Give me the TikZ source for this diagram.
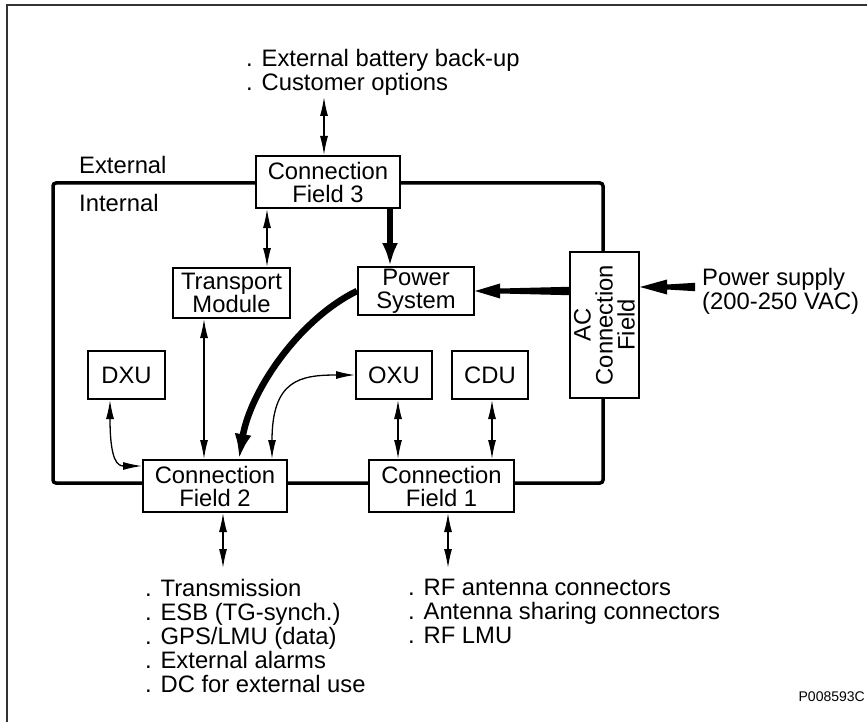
\documentclass[tikz,border=0pt]{standalone}
\usepackage{fontspec}
\setmainfont{Liberation Sans}
\usetikzlibrary{arrows.meta,calc}
\begin{document}
\begin{tikzpicture}[x=1pt,y=-1pt,
  every node/.style={font=\fontsize{23.8}{24}\selectfont, inner sep=0pt},
  box/.style={draw, line width=2pt, fill=white, align=center, font=\fontsize{23.8}{23}\selectfont},
  dbl/.style={line width=1.3pt, {Latex[length=19pt,width=8pt]}-{Latex[length=19pt,width=8pt]}},
  heavy/.style={line width=6pt, -{Latex[length=23pt,width=16pt]}},
  boundary/.style={line width=3.5pt, rounded corners=3pt},
  lbl/.style={align=left, anchor=north west}
]
\useasboundingbox (0,0) rectangle (867,722);
\draw[line width=1.5pt, black!80] (7,722) -- (7,5) -- (867,5);

% internal/external boundary
\draw[boundary] (53,183) rectangle (603,483);

% boxes
\node[box, minimum width=144pt, minimum height=52pt] (cf3) at (328,182) {Connection\\Field 3};
\node[box, minimum width=117pt, minimum height=50pt] (tm) at (231.5,293) {Transport\\Module};
\node[box, minimum width=116pt, minimum height=48pt] (ps) at (416,291) {Power\\System};
\node[box, minimum width=69pt, minimum height=146pt] (ac) at (604.5,325) {};
\node[rotate=90, align=center, font=\fontsize{23.8}{22}\selectfont] (actext) at (ac.center) {AC\\Connection\\Field};
\node[box, minimum width=77pt, minimum height=48pt] (dxu) at (126.5,375) {DXU};
\node[box, minimum width=76pt, minimum height=48pt] (oxu) at (394,375) {OXU};
\node[box, minimum width=76pt, minimum height=48pt] (cdu) at (490,375) {CDU};
\node[box, minimum width=144pt, minimum height=52pt] (cf2) at (215,486) {Connection\\Field 2};
\node[box, minimum width=145pt, minimum height=52pt] (cf1) at (441.5,486) {Connection\\Field 1};

% texts
\node[anchor=west] (extl) at (79,165) {External};
\node[anchor=west] (intl) at (79,203) {Internal};
\node[lbl] (toptext) at (246,49) {. External battery back-up\\. Customer options};
\node[lbl] (bl) at (145,579) {. Transmission\\. ESB (TG-synch.)\\. GPS/LMU (data)\\. External alarms\\. DC for external use};
\node[lbl] (br) at (408,579) {. RF antenna connectors\\. Antenna sharing connectors\\. RF LMU};
\node[lbl] (psu) at (702,268) {Power supply\\(200-250 VAC)};
\node[anchor=east, font=\fontsize{14}{14}\selectfont] (ref) at (865,697) {P008593C};

% helper coordinates
\coordinate (t1) at (324,97);
\coordinate (xa) at (267,0);
\coordinate (xb) at (390,0);
\coordinate (xc) at (204,0);
\coordinate (xd) at (398,0);
\coordinate (xe) at (492,0);
\coordinate (b2) at (223,568);
\coordinate (b1) at (448,568);
\coordinate (xf) at (239,0);
\coordinate (xg) at (272,0);
\coordinate (xh) at (110,0);
\coordinate (yh) at (0,466);
\coordinate (pst) at (695,287);

% connectors
\draw[dbl] (t1) -- (t1 |- cf3.north);
\draw[dbl] (cf3.south -| xa) -- (tm.north -| xa);
\draw[heavy] (cf3.south -| xb) -- (ps.north -| xb);
\draw[dbl] (tm.south -| xc) -- (cf2.north -| xc);
\draw[dbl] (oxu.south -| xd) -- (cf1.north -| xd);
\draw[dbl] (cdu.south -| xe) -- (cf1.north -| xe);
\draw[dbl] (cf2.south -| b2) -- (b2);
\draw[dbl] (cf1.south -| b1) -- (b1);

\draw[line width=6.5pt, -{Latex[length=25pt,width=17pt]}] (ps.west) .. controls (298,320) and (250,392) .. (cf2.north -| xf);
\draw[dbl] (cf2.north -| xg) .. controls (272,380) and (300,375) .. (oxu.west);
\draw[dbl] (dxu.south -| xh) .. controls (110,462) and (118,466) .. (cf2.west |- yh);

% tapered power arrows
\coordinate (acl) at (ac.west |- ps.east);
\fill ($(acl)+(0,-4.2)$) -- ($(ps.east)+(25,-2.5)$) -- ($(ps.east)+(25,-7.5)$) -- (ps.east)
   -- ($(ps.east)+(25,7.5)$) -- ($(ps.east)+(25,2.5)$) -- ($(acl)+(0,4.2)$) -- cycle;
\coordinate (psh) at (ac.east |- pst);
\fill ($(pst)+(0,-4.2)$) -- ($(psh)+(27,-2.5)$) -- ($(psh)+(27,-7.5)$) -- (psh)
   -- ($(psh)+(27,7.5)$) -- ($(psh)+(27,2.5)$) -- ($(pst)+(0,4.2)$) -- cycle;
\end{tikzpicture}
\end{document}
